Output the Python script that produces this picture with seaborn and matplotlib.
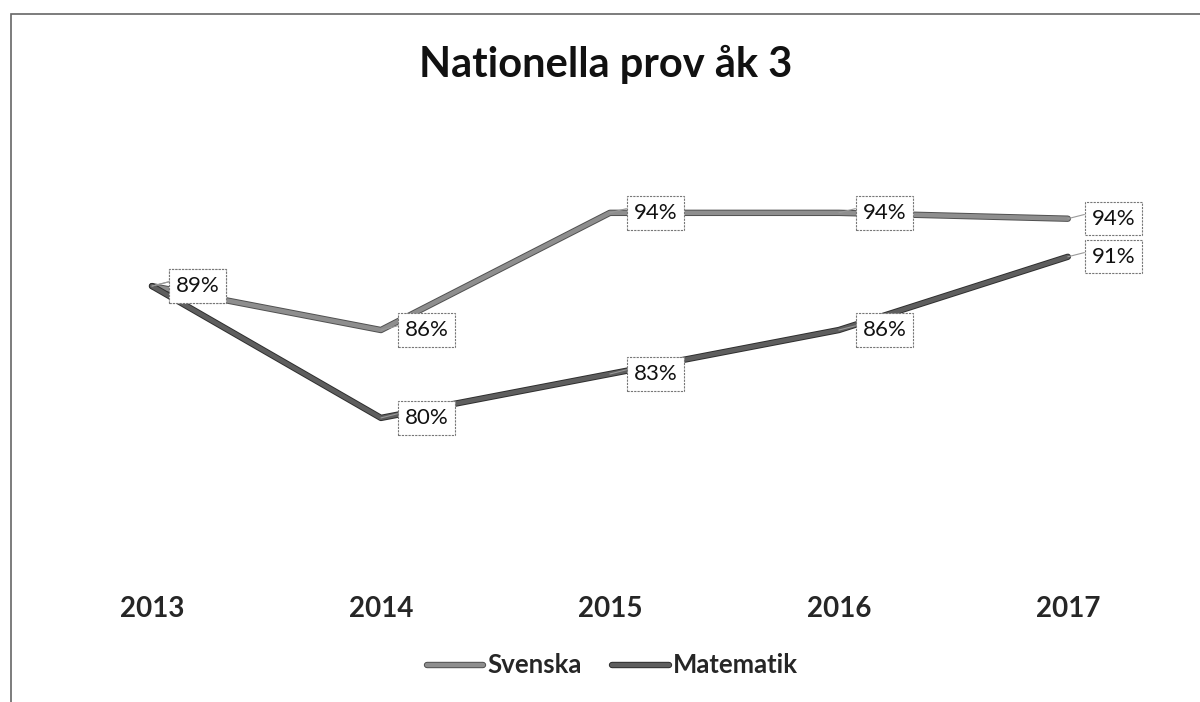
import pandas as pd
import numpy as np
import seaborn as sns
import matplotlib.pyplot as plt
import matplotlib.patheffects as pe
from matplotlib.patches import Rectangle
from matplotlib.lines import Line2D

years = ["2013", "2014", "2015", "2016", "2017"]
svenska = [89, 86, 94, 94, 93.6]
matematik = [89, 80, 83, 86, 91]
svenska_labels = ["89%", "86%", "94%", "94%", "94%"]
matematik_labels = ["89%", "80%", "83%", "86%", "91%"]

df = pd.DataFrame({
    "x": list(range(len(years))) * 2,
    "value": svenska + matematik,
    "serie": ["Svenska"] * len(years) + ["Matematik"] * len(years),
})

sns.set_style("white")
plt.rcParams["font.family"] = ["Lato", "DejaVu Sans"]

fig = plt.figure(figsize=(12, 7.02), dpi=100)
ax = fig.add_axes([0.03125, 0.1595, 0.954, 0.6625])

palette = {"Svenska": "#8e8e8e", "Matematik": "#5e5e5e"}
edges = {"Svenska": "#505050", "Matematik": "#2e2e2e"}
sns.lineplot(data=df, x="x", y="value", hue="serie", palette=palette,
             linewidth=3.2, ax=ax, legend=False)
for line, name in zip(ax.lines, ["Svenska", "Matematik"]):
    line.set_path_effects([pe.Stroke(linewidth=4.6, foreground=edges[name]),
                           pe.Normal()])

# data labels with callout boxes
for vals, labs in [(svenska, svenska_labels), (matematik, matematik_labels)]:
    for i, (v, lab) in enumerate(zip(vals, labs)):
        ax.annotate(lab, xy=(i, v), xytext=(17, 0), textcoords="offset points",
                    ha="left", va="center", fontsize=16, color="#111111",
                    bbox=dict(boxstyle="square,pad=0.3", fc="white",
                              ec="#777777", lw=0.8, ls=(0, (2, 1))),
                    arrowprops=dict(arrowstyle="-", color="#999999", lw=0.8,
                                    shrinkA=0, shrinkB=0, relpos=(0, 0.8)),
                    zorder=5)

ax.set_xlim(-0.5, 4.5)
ax.set_ylim(68.25, 100)
ax.set_xticks(range(len(years)))
ax.set_xticklabels(years, fontsize=20, fontweight="bold")
ax.set_yticks([])
ax.tick_params(axis="x", length=0, pad=4)
ax.set_xlabel("")
ax.set_ylabel("")
for s in ax.spines.values():
    s.set_visible(False)

fig.text(0.505, 0.8903, "Nationella prov åk 3", ha="center", va="baseline",
         fontsize=30, fontweight="bold", color="#111111")

# legend
handles = [Line2D([], [], color=palette[n], lw=3.2,
                  path_effects=[pe.Stroke(linewidth=4.6, foreground=edges[n]),
                                pe.Normal()])
           for n in ["Svenska", "Matematik"]]
fig.legend(handles, ["Svenska", "Matematik"], loc="center",
           bbox_to_anchor=(0.51, 0.052), ncol=2, frameon=False,
           prop={"size": 18.5, "weight": "bold"}, handlelength=2.2,
           handletextpad=0.15, columnspacing=1.2)

# outer border
fig.add_artist(Rectangle((0.0092, -0.01), 1.0, 0.99, transform=fig.transFigure,
                         fill=False, ec="#666666", lw=1.2))

fig.savefig("out.png", dpi=100)
